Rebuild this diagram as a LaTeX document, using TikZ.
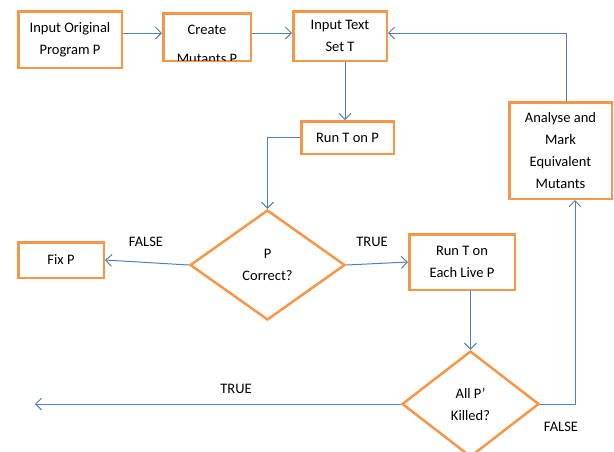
\documentclass[tikz,border=0pt]{standalone}
\usepackage{fontspec}
\setmainfont{Carlito}
\usetikzlibrary{positioning}
\usetikzlibrary{shapes.geometric,arrows.meta}

\definecolor{boxorange}{RGB}{247,150,70}
\definecolor{lineblue}{RGB}{79,129,189}

\begin{document}
\begin{tikzpicture}[x=1pt,y=-1pt,
  font=\fontsize{14.5}{22}\selectfont,
  blk/.style={draw=boxorange,line width=2.5pt,fill=white,align=center,inner sep=2pt},
  dec/.style={shape=diamond,draw=boxorange,line width=2.5pt,fill=white,aspect=1.4,inner sep=0pt,align=center},
  lbl/.style={inner sep=0pt},
  flow/.style={draw=lineblue,line width=1pt,-{Straight Barb[length=6pt,width=12pt]}}]
\useasboundingbox (0,0) rectangle (614,451);

\coordinate (toprow) at (0,33);
\coordinate (trueend) at (35,404);

\node[blk,minimum width=103.5,minimum height=56.5](orig) at (70,39.5){Input Original\\Program P};
\node[blk,minimum width=87.5,minimum height=47.5](create) at (207,37){};
\begin{scope}
\clip (163.25,13.25) rectangle (250.75,60.75);
\node[lbl,align=center,font=\fontsize{14.5}{28.5}\selectfont](createtxt) at (207,44.5){Create\\Mutants P};
\end{scope}
\node[blk,minimum width=93.5,minimum height=49.5](inset) at (340,36){Input Text\\Set T};
\node[blk,minimum width=92.5,minimum height=32.5](runp) at (347.5,137.5){Run T on P};
\node[blk,minimum width=102.5,minimum height=96.5](analyse) at (560.5,150.5){Analyse and\\Mark\\Equivalent\\Mutants};
\node[blk,minimum width=85.5,minimum height=35.5](fix) at (61,260){Fix P};
\node[dec,minimum width=155,minimum height=110](correct) at (267.5,265){P\\Correct?};
\node[blk,minimum width=105.5,minimum height=55.5](livep) at (462,262){Run T on\\Each Live P};
\node[dec,minimum width=137,minimum height=106](killed) at (470.5,404){All P’\\Killed?};

\node[lbl](lfalseA) at (146,242){FALSE};
\node[lbl](ltrueA) at (372,242){TRUE};
\node[lbl](ltrueB) at (236,389){TRUE};
\node[lbl](lfalseB) at (561,427){FALSE};

\path
(orig.east|-toprow) edge[flow] (create.west|-toprow)
(create.east|-toprow) edge[flow] (inset.west|-toprow)
([xshift=5]inset.south) edge[flow] ([xshift=5]inset.south|-runp.north)
(correct.west) edge[flow] (fix.east)
(correct.east) edge[flow] (livep.west)
(killed.north|-livep.south) edge[flow] (killed.north)
(killed.west) edge[flow] (trueend);
\draw[flow] ([xshift=5.5]analyse.north) |- (inset.east|-toprow);
\draw[flow] (runp.west) -| (correct.north);
\draw[flow] (killed.east) -| ([xshift=14.5]analyse.south);
\end{tikzpicture}
\end{document}
